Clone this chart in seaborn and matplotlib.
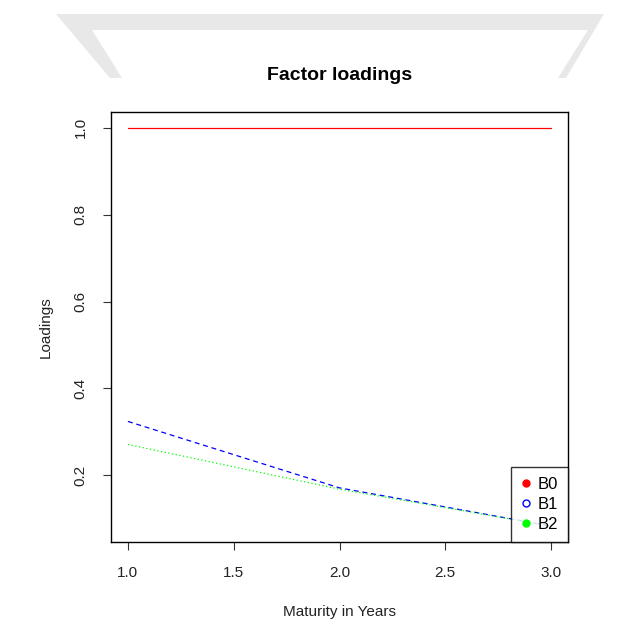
import numpy as np
import pandas as pd
import seaborn as sns
import matplotlib.pyplot as plt
from matplotlib.lines import Line2D
from matplotlib.patches import Polygon

# maturities and factor loadings
maturity = [1.0, 2.0, 3.0]
b0 = [1.0, 1.0, 1.0]
b1 = [0.324, 0.171, 0.083]
b2 = [0.271, 0.168, 0.083]
factors = ["B0", "B1", "B2"]
colors = {"B0": "red", "B1": "blue", "B2": "#00ff00"}

df = pd.DataFrame({
    "maturity": maturity * 3,
    "loading": b0 + b1 + b2,
    "factor": np.repeat(factors, len(maturity)),
})

sns.set_style("ticks")
plt.rcParams["font.family"] = ["Liberation Sans", "DejaVu Sans"]

fig = plt.figure(figsize=(6.25, 6.25), dpi=100)

# faint grey band behind the plot (watermark of the source picture)
def to_fig(pts):
    return [(x / 625, 1 - y / 625) for x, y in pts]

fig.patches.append(Polygon(to_fig([(56, 14), (604, 14), (566, 78), (110, 78)]),
                           closed=True, transform=fig.transFigure,
                           facecolor="#e8e8e8", edgecolor="none", zorder=-2))
fig.patches.append(Polygon(to_fig([(92, 30), (588, 30), (558, 78), (122, 78)]),
                           closed=True, transform=fig.transFigure,
                           facecolor="white", edgecolor="none", zorder=-1))

ax = fig.add_axes([111 / 625, 1 - 542 / 625, 457 / 625, 430 / 625])
ax.set_facecolor("white")

sns.lineplot(data=df, x="maturity", y="loading", hue="factor", style="factor",
             palette=colors,
             dashes={"B0": "", "B1": (4, 3), "B2": (1, 2)},
             linewidth=0.9, ax=ax, legend=False)

ymin = min(b1 + b2)
rng = 1.0 - ymin
ax.set_xlim(0.92, 3.08)
ax.set_ylim(ymin - 0.04 * rng, 1.0 + 0.04 * rng)
ax.set_xticks([1.0, 1.5, 2.0, 2.5, 3.0])
ax.set_yticks([0.2, 0.4, 0.6, 0.8, 1.0])
ax.set_xticklabels(["1.0", "1.5", "2.0", "2.5", "3.0"])
ax.set_yticklabels(["0.2", "0.4", "0.6", "0.8", "1.0"], rotation=90, va="center")
ax.tick_params(direction="out", length=6, width=0.8, color="#333333",
               labelsize=11, labelcolor="#222222", pad=11)
for s in ax.spines.values():
    s.set_color("black")
    s.set_linewidth(1.0)

ax.set_xlabel("Maturity in Years", fontsize=11, color="#222222", labelpad=18)
ax.set_ylabel("Loadings", fontsize=11, color="#222222", labelpad=15)
ax.set_title("Factor loadings", fontsize=14, fontweight="bold", color="black",
             pad=23)

handles = [
    Line2D([], [], ls="none", marker="o", color="red", markersize=5),
    Line2D([], [], ls="none", marker="o", markerfacecolor="white",
           markeredgecolor="blue", markersize=5),
    Line2D([], [], ls="none", marker="o", color="#00ff00", markersize=5),
]
leg = ax.legend(handles, factors, loc="lower right", bbox_to_anchor=(1.0, 0.0),
                borderaxespad=0, fontsize=12, frameon=True, fancybox=False,
                handletextpad=0.4, handlelength=0.6, labelspacing=0.3,
                borderpad=0.6)
leg.get_frame().set_edgecolor("black")
leg.get_frame().set_linewidth(1.0)
for t in leg.get_texts():
    t.set_color("black")

fig.savefig("out.png", dpi=100, facecolor="white")
